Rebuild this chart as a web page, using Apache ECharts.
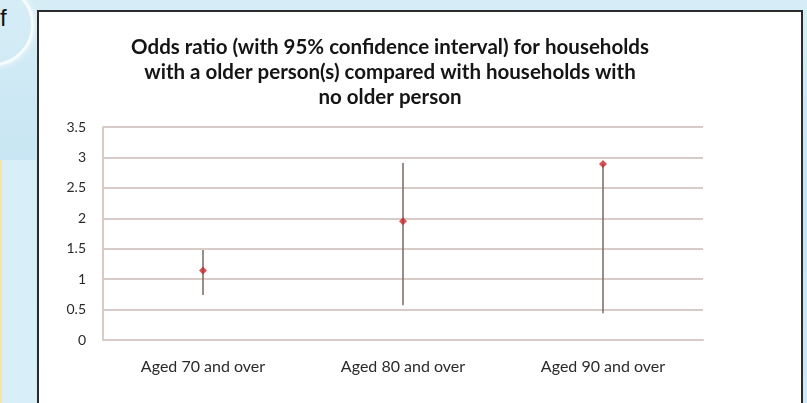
<!DOCTYPE html>
<html>
<head>
<meta charset="utf-8">
<script src="https://cdn.jsdelivr.net/npm/echarts@6/dist/echarts.min.js"></script>
<style>
  html, body { margin: 0; padding: 0; }
  body {
    width: 807px; height: 403px; overflow: hidden; position: relative;
    background: linear-gradient(180deg, #d6edf6 0%, #c4e4f2 50%, #cfe9f5 100%);
    font-family: Lato, "Open Sans", sans-serif;
  }
  .ring {
    position: absolute; left: -48px; top: -16px; width: 76px; height: 76px;
    border-radius: 50%; border: 3px solid rgba(255,255,255,0.8);
    box-shadow: 0 0 6px rgba(255,255,255,0.9);
  }
  .letter {
    position: absolute; left: 0; top: 4px; font-size: 24px; color: #111;
    font-family: "Liberation Sans", sans-serif;
  }
  .panel {
    position: absolute; left: 0; top: 160px; width: 34px; height: 243px;
    background: #d8eef8; border-left: 2px solid #f3e6ab;
  }
  .box {
    position: absolute; left: 37px; top: 10px; width: 766px; height: 400px;
    border: 2px solid #2b2b2b; background: #fff; box-sizing: border-box;
  }
  #chart { position: absolute; left: 0; top: 0; width: 764px; height: 398px; }
</style>
</head>
<body>
<div class="ring"></div>
<div class="letter">f</div>
<div class="panel"></div>
<div class="box"><div id="chart"></div></div>
<script>
// 类别
var categories = ['Aged 70 and over', 'Aged 80 and over', 'Aged 90 and over'];
// 比值比
var oddsRatio = [1.14, 1.95, 2.89];
// 95% 置信区间下限 / 上限
var lowerCI = [0.74, 0.57, 0.44];
var upperCI = [1.48, 2.91, 2.89];
// 纵轴刻度
var yTicks = [0, 0.5, 1, 1.5, 2, 2.5, 3, 3.5];

var chart = echarts.init(document.getElementById('chart'));

var intervalData = categories.map(function (c, i) {
  return [i, lowerCI[i], upperCI[i]];
});

var option = {
  animation: false,
  title: {
    text: 'Odds ratio (with 95% confidence interval) for households\nwith a older person(s) compared with households with\nno older person',
    left: 346,
    top: 18,
    textAlign: 'center',
    textStyle: {
      fontFamily: 'Lato',
      fontWeight: 'bold',
      fontSize: 20.5,
      lineHeight: 25,
      color: '#151515'
    }
  },
  grid: { left: 64, top: 115, width: 600, height: 213 },
  xAxis: {
    type: 'category',
    data: categories,
    axisLine: { show: true, lineStyle: { color: '#d8ccc8', width: 2 } },
    axisTick: { show: false },
    axisLabel: { color: '#2a2a2a', fontFamily: 'Lato', fontSize: 16, margin: 19 }
  },
  yAxis: {
    type: 'value',
    min: 0,
    max: yTicks[yTicks.length - 1],
    interval: 0.5,
    axisLine: { show: true, lineStyle: { color: '#d8ccc8', width: 2 } },
    axisTick: { show: false },
    axisLabel: { color: '#2a2a2a', fontFamily: 'Lato', fontSize: 14, margin: 17 },
    splitLine: { show: true, lineStyle: { color: '#d8ccc8', width: 2 } }
  },
  series: [
    {
      // 置信区间
      type: 'custom',
      data: intervalData,
      renderItem: function (params, api) {
        var x = api.value(0);
        var lo = api.coord([x, api.value(1)]);
        var hi = api.coord([x, api.value(2)]);
        return {
          type: 'line',
          shape: { x1: lo[0], y1: lo[1], x2: hi[0], y2: hi[1] },
          style: { stroke: '#7a6863', lineWidth: 1.5 }
        };
      },
      encode: { x: 0, y: [1, 2] },
      z: 3
    },
    {
      // 比值比点
      type: 'scatter',
      data: oddsRatio,
      symbol: 'diamond',
      symbolSize: 8,
      itemStyle: { color: '#c8282c' },
      z: 4
    }
  ]
};

chart.setOption(option);
window.onresize = function () {
  chart.resize();
};
</script>
</body>
</html>
